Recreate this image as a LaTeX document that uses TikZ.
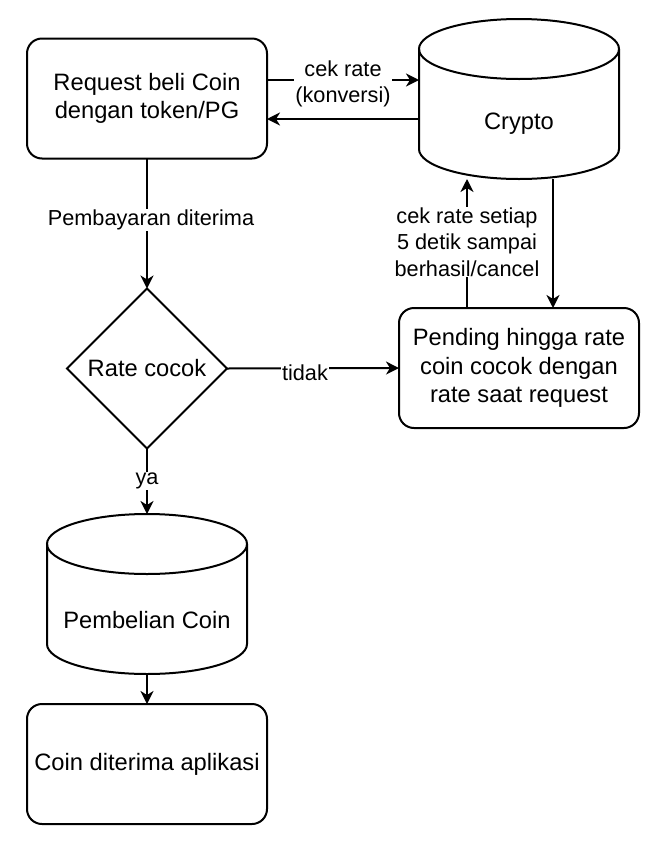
\documentclass[tikz,border=0pt]{standalone}
\usepackage{fontspec}
\setmainfont{Liberation Sans}
\usetikzlibrary{shapes.geometric,arrows.meta}
\begin{document}
\begin{tikzpicture}[x=1pt,y=-1pt,
  every node/.style={inner sep=0pt, outer sep=0pt},
  boxstyle/.style={draw, line width=2pt, rounded corners=15pt, fill=white,
    minimum width=240pt, minimum height=120pt, align=center,
    font=\fontsize{23.7}{28.4}\selectfont},
  decstyle/.style={draw, line width=2pt, diamond, aspect=1, fill=white,
    minimum width=160pt, minimum height=160pt, align=center,
    font=\fontsize{23.7}{28.4}\selectfont},
  areastyle/.style={minimum width=200pt, minimum height=160pt},
  cyltext/.style={align=center, font=\fontsize{23.7}{28.4}\selectfont},
  elbl/.style={fill=white, align=center, inner sep=1pt, font=\fontsize{21.7}{26.5}\selectfont},
  arr/.style={line width=2pt, -{Stealth[length=13pt,width=13pt,inset=4pt]}},
  cylline/.style={line width=2pt}
]
\useasboundingbox (0,0) rectangle (664,844);

% Cylinder shapes drawn directly
\fill[white] (419,49) -- (419,149) arc[start angle=180,end angle=0,x radius=100,y radius=30] -- (619,49) arc[start angle=0,end angle=-180,x radius=100,y radius=30] -- cycle;
\draw[cylline] (519,49) ellipse[x radius=100, y radius=30];
\draw[cylline] (419,49) -- (419,149) arc[start angle=180,end angle=0,x radius=100,y radius=30] -- (619,49);

\fill[white] (47,544) -- (47,644) arc[start angle=180,end angle=0,x radius=100,y radius=30] -- (247,544) arc[start angle=0,end angle=-180,x radius=100,y radius=30] -- cycle;
\draw[cylline] (147,544) ellipse[x radius=100, y radius=30];
\draw[cylline] (47,544) -- (47,644) arc[start angle=180,end angle=0,x radius=100,y radius=30] -- (247,544);

% Nodes
\node[boxstyle] (req) at (147,98.5) {Request beli Coin\\dengan token/PG};
\node[areastyle] (crypto) at (519,99) {};
\node[cyltext] (cryptotxt) at (519,124) {Crypto};
\node[decstyle] (dec) at (147,368.5) {Rate cocok};
\node[boxstyle] (pend) at (519,368) {Pending hingga rate\\coin cocok dengan\\rate saat request};
\node[areastyle] (beli) at (147,594) {};
\node[cyltext] (belitxt) at (147,620) {Pembelian Coin};
\node[boxstyle] (app) at (147,764) {Coin diterima aplikasi};

\coordinate (ya80) at (0,80);
\coordinate (ya119) at (0,119);
\coordinate (xa467) at (467,0);
\coordinate (xa553) at (553,0);

% Connectors
\draw[arr] (req.east |- ya80) -- (crypto.west |- ya80);
\draw[arr] (crypto.west |- ya119) -- (req.east |- ya119);
\draw[arr] (req.south) -- (dec.north);
\draw[arr] (dec.east) -- (pend.west);
\draw[arr] (pend.north -| xa467) -- (crypto.south -| xa467);
\draw[arr] (crypto.south -| xa553) -- (pend.north -| xa553);
\draw[arr] (dec.south) -- (beli.north);
\draw[arr] (beli.south) -- (app.north);

% Edge labels
\node[elbl] (l1) at (343,84) {cek rate\\(konversi)};
\node[elbl] (l2) at (151,220) {Pembayaran diterima};
\node[elbl] (l3) at (305,373) {tidak};
\node[elbl] (l4) at (467,242) {cek rate setiap\\5 detik sampai\\berhasil/cancel};
\node[elbl] (l5) at (147,481) {ya};
\end{tikzpicture}
\end{document}
